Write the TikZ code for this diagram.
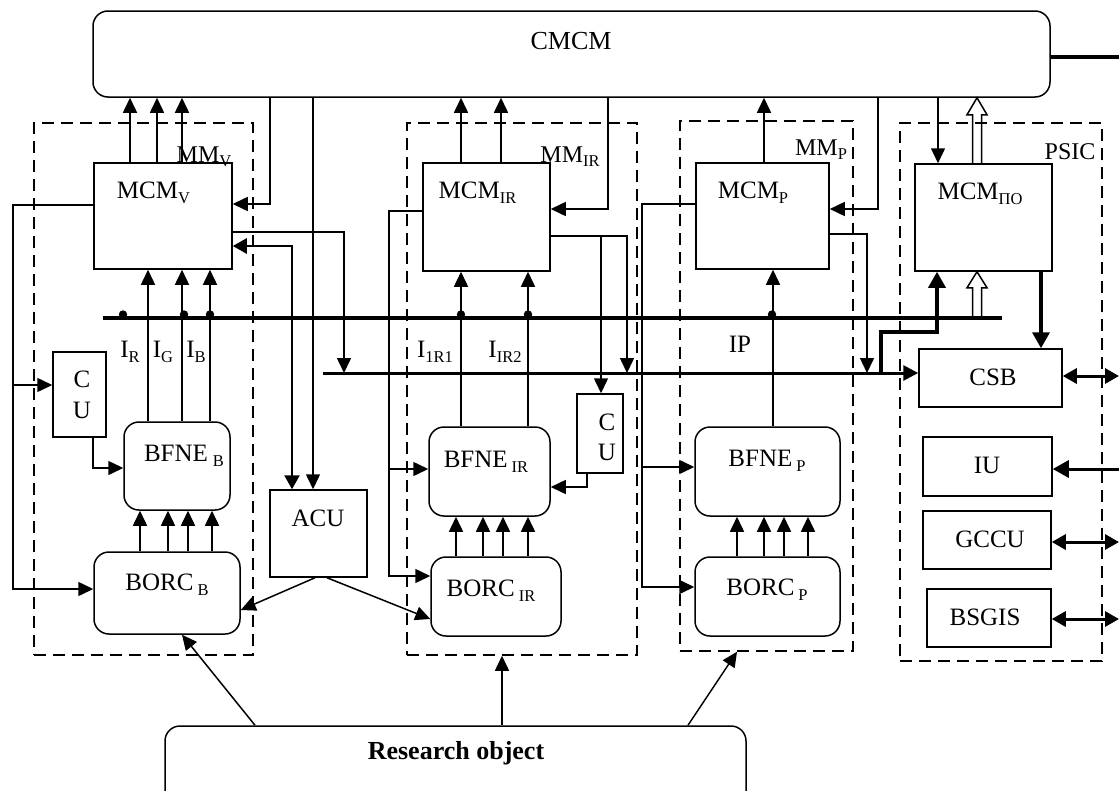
\documentclass[tikz,border=0pt]{standalone}
\usepackage{fontspec}
\setmainfont{Liberation Serif}
\usetikzlibrary{arrows.meta,calc}
\newcommand{\lo}[1]{\raisebox{-0.2em}{\fontsize{16.5}{17}\selectfont #1}}
\begin{document}
\begin{tikzpicture}[x=1pt,y=-1pt,
  box/.style={draw, line width=1.5pt, inner sep=0pt},
  rbox/.style={box, rounded corners=15pt},
  dbox/.style={draw, line width=1.5pt, dash pattern=on 12pt off 7pt, inner sep=0pt},
  lbl/.style={inner sep=0pt, anchor=base, font=\fontsize{25}{28}\selectfont},
  ln/.style={line width=1.5pt},
  arr/.style={line width=1.5pt, -{Triangle[length=15pt,width=14pt]}},
  darr/.style={line width=3pt, {Triangle[length=14pt,width=15pt]}-{Triangle[length=14pt,width=15pt]}},
  tarr/.style={line width=3.5pt, -{Triangle[length=16pt,width=17pt]}}
]
\useasboundingbox (0,0) rectangle (1119,790);
\clip (0,0) rectangle (1119,790);

% ---------- dashed module frames ----------
\node[dbox, minimum width=219, minimum height=532] (mmv)  at (143.5,389) {};
\node[dbox, minimum width=230, minimum height=532] (mmir) at (522,389) {};
\node[dbox, minimum width=173, minimum height=530] (mmp)  at (766.5,386) {};
\node[dbox, minimum width=202, minimum height=538] (psic) at (1001,392) {};

% ---------- boxes ----------
\node[rbox, minimum width=957, minimum height=86] (cmcm) at (571.5,54) {};
\node[box, minimum width=138, minimum height=106] (mcmv) at (163,216) {};
\node[box, minimum width=53, minimum height=85] (cul) at (79.5,394.5) {};
\node[rbox, minimum width=106, minimum height=88] (bfneb) at (177,466) {};
\node[rbox, minimum width=146, minimum height=82] (borcb) at (167,593) {};
\node[box, minimum width=97, minimum height=87] (acu) at (318.5,533.5) {};
\node[box, minimum width=127, minimum height=108] (mcmir) at (486.5,217) {};
\node[rbox, minimum width=121, minimum height=89] (bfneir) at (489.5,471.5) {};
\node[rbox, minimum width=130, minimum height=79] (borcir) at (496,596.5) {};
\node[box, minimum width=46, minimum height=79] (cum) at (600,433.5) {};
\node[box, minimum width=133, minimum height=106] (mcmp) at (762.5,216) {};
\node[rbox, minimum width=145, minimum height=89] (bfnep) at (767.5,471.5) {};
\node[rbox, minimum width=145, minimum height=79] (borcp) at (767.5,596.5) {};
\node[box, minimum width=137, minimum height=107] (mcmpo) at (983.5,217.5) {};
\node[box, minimum width=143, minimum height=58] (csb) at (990.5,378) {};
\node[box, minimum width=129, minimum height=59] (iu) at (987.5,466.5) {};
\node[box, minimum width=128, minimum height=58] (gccu) at (987,540) {};
\node[box, minimum width=124, minimum height=58] (bsgis) at (989,618) {};
\node[rbox, minimum width=581, minimum height=89] (ro) at (455.5,770.5) {};

% ---------- texts ----------
\node[lbl, font=\fontsize{26}{28}\selectfont] (tcmcm) at (571,49) {CMCM};
\node[lbl] (tmcmv) at (153.5,198) {MCM\lo{V}};
\node[lbl, font=\fontsize{24}{28}\selectfont] (tmmv) at (204,162) {MM\lo{V}};
\node[lbl] (tc1) at (82,387) {C};
\node[lbl] (tu1) at (82,418) {U};
\node[lbl] (tbfneb) at (184,461) {BFNE\hspace{5pt}\lo{B}};
\node[lbl] (tborcb) at (167,590) {BORC\hspace{4pt}\lo{B}};
\node[lbl] (tacu) at (318,526) {ACU};
\node[lbl] (tir) at (130,357) {I\lo{R}};
\node[lbl] (tig) at (163,357) {I\lo{G}};
\node[lbl] (tib) at (196,357) {I\lo{B}};
\node[lbl] (tmcmir) at (477.5,198) {MCM\lo{IR}};
\node[lbl, font=\fontsize{24}{28}\selectfont] (tmmir) at (570,162) {MM\lo{IR}};
\node[lbl] (ti1) at (435,357) {I\lo{1R1}};
\node[lbl] (ti2) at (505,357) {I\lo{IR2}};
\node[lbl] (tbfneir) at (486,467) {BFNE\hspace{4pt}\lo{IR}};
\node[lbl] (tborcir) at (491,596) {BORC\hspace{4pt}\lo{IR}};
\node[lbl] (tc2) at (607,430) {C};
\node[lbl] (tu2) at (607,460) {U};
\node[lbl] (tmcmp) at (753,198) {MCM\lo{P}};
\node[lbl, font=\fontsize{24}{28}\selectfont] (tmmp) at (821,155) {MM\lo{P}};
\node[lbl] (tip) at (740,352) {IP};
\node[lbl] (tbfnep) at (767,466) {BFNE\hspace{4pt}\lo{P}};
\node[lbl] (tborcp) at (767,595) {BORC\hspace{4pt}\lo{P}};
\node[lbl, font=\fontsize{24}{28}\selectfont] (tpsic) at (1070,159) {PSIC};
\node[lbl] (tmcmpo) at (980,199) {MCM\lo{ПО}};
\node[lbl] (tcsb) at (993,385) {CSB};
\node[lbl] (tiu) at (987,473) {IU};
\node[lbl] (tgccu) at (990,547) {GCCU};
\node[lbl] (tbsgis) at (985,625) {BSGIS};
\node[lbl, font=\fontsize{26}{28}\selectfont\bfseries] (tro) at (456,759) {Research object};

% ---------- buses ----------
\coordinate (b1w) at (103,318);
\coordinate (b1e) at (1002,318);
\coordinate (b2w) at (323,373);
\draw[line width=4pt] (b1w) -- (b1e);
\draw[line width=3pt, -{Triangle[length=15pt,width=15pt]}] (b2w) -- (csb.west |- b2w);
\foreach \x in {123,184,210,461,528,772} \fill (\x,314.5) circle[radius=4.2pt];

% ---------- CMCM external line ----------
\draw[line width=4pt] (cmcm.east |- 0,57) -- (1119,57);

% ---------- MM_V ----------
\foreach \x in {130,157,182} \draw[arr] (mcmv.north -| \x,0) -- (cmcm.south -| \x,0);
\draw[arr] (cmcm.south -| 270,0) |- (mcmv.east |- 0,204);
\draw[arr] (mcmv.east |- 0,232) -| (b2w -| 344,0);
\draw[darr, line width=2.5pt] (mcmv.east |- 0,246) -| (acu.north -| 292,0);
\draw[arr] (cmcm.south -| 313,0) -- (acu.north -| 313,0);
\draw[arr] (mcmv.west |- 0,205) -| (13,589) -- (borcb.west |- 0,589);
\draw[arr] (13,385) -- (cul.west |- 0,385);
\draw[arr] (cul.south -| 93,0) |- (bfneb.west |- 0,468);
\foreach \x in {148,182,210} \draw[arr] (bfneb.north -| \x,0) -- (mcmv.south -| \x,0);
\foreach \x in {140,168,188,212} \draw[arr] (borcb.north -| \x,0) -- (bfneb.south -| \x,0);
\draw[arr] (acu.south -| 315,0) -- (borcb.east |- 0,610);
\draw[arr] (acu.south -| 327,0) -- (borcir.west |- 0,619);

% ---------- MM_IR ----------
\foreach \x in {461,501} \draw[arr] (mcmir.north -| \x,0) -- (cmcm.south -| \x,0);
\draw[arr] (cmcm.south -| 608,0) |- (mcmir.east |- 0,209);
\draw[arr] (mcmir.west |- 0,211) -| (389,576) -- (borcir.west |- 0,576);
\draw[arr] (389,469) -- (bfneir.west |- 0,469);
\foreach \x in {461,528} \draw[arr] (bfneir.north -| \x,0) -- (mcmir.south -| \x,0);
\foreach \x in {456,483,503,528} \draw[arr] (borcir.north -| \x,0) -- (bfneir.south -| \x,0);
\draw[arr] (mcmir.east |- 0,236) -| (b2w -| 627,0);
\draw[arr] (601,236) -- (cum.north -| 601,0);
\draw[arr] (cum.south -| 587,0) |- (bfneir.east |- 0,487);

% ---------- MM_P ----------
\draw[arr] (mcmp.north -| 764,0) -- (cmcm.south -| 764,0);
\draw[arr] (cmcm.south -| 878,0) |- (mcmp.east |- 0,209);
\draw[arr] (mcmp.east |- 0,234) -| (b2w -| 867,0);
\draw[arr] (mcmp.west |- 0,204) -| (642,587) -- (borcp.west |- 0,587);
\draw[arr] (642,467) -- (bfnep.west |- 0,467);
\draw[arr] (bfnep.north -| 773,0) -- (mcmp.south -| 773,0);
\foreach \x in {737,764,784,808} \draw[arr] (borcp.north -| \x,0) -- (bfnep.south -| \x,0);

% ---------- PSIC ----------
\draw[arr] (cmcm.south -| 938,0) -- (mcmpo.north -| 938,0);
\coordinate (ha) at (mcmpo.north -| 977,0);
\coordinate (hb) at (cmcm.south -| 977,0);
\draw[ln, line join=miter] ($(ha)+(-4.5,0)$) -- ($(hb)+(-4.5,17)$) -- ($(hb)+(-10,17)$) -- (hb) -- ($(hb)+(10,17)$) -- ($(hb)+(4.5,17)$) -- ($(ha)+(4.5,0)$);
\coordinate (hc) at (b1e -| 977,0);
\coordinate (hd) at (mcmpo.south -| 977,0);
\draw[ln, line join=miter] ($(hc)+(-4.5,-2)$) -- ($(hd)+(-4.5,16)$) -- ($(hd)+(-10,16)$) -- (hd) -- ($(hd)+(10,16)$) -- ($(hd)+(4.5,16)$) -- ($(hc)+(4.5,-2)$);
\draw[tarr] (b2w -| 881,0) -- (881,332) -| (mcmpo.south -| 937,0);
\draw[tarr] (mcmpo.south -| 1041,0) -- (csb.north -| 1041,0);
\draw[darr] (csb.east |- 0,376) -- (1119,376);
\draw[tarr, line width=3pt] (1119,469) -- (iu.east |- 0,469);
\draw[darr] (gccu.east |- 0,542) -- (1119,542);
\draw[darr] (bsgis.east |- 0,619) -- (1119,619);

% ---------- research object ----------
\draw[arr] (ro.north -| 255,0) -- (borcb.south -| 182,0);
\draw[arr] (ro.north -| 502,0) -- (mmir.south -| 502,0);
\draw[arr] (ro.north -| 688,0) -- (mmp.south -| 737,0);
\end{tikzpicture}
\end{document}
